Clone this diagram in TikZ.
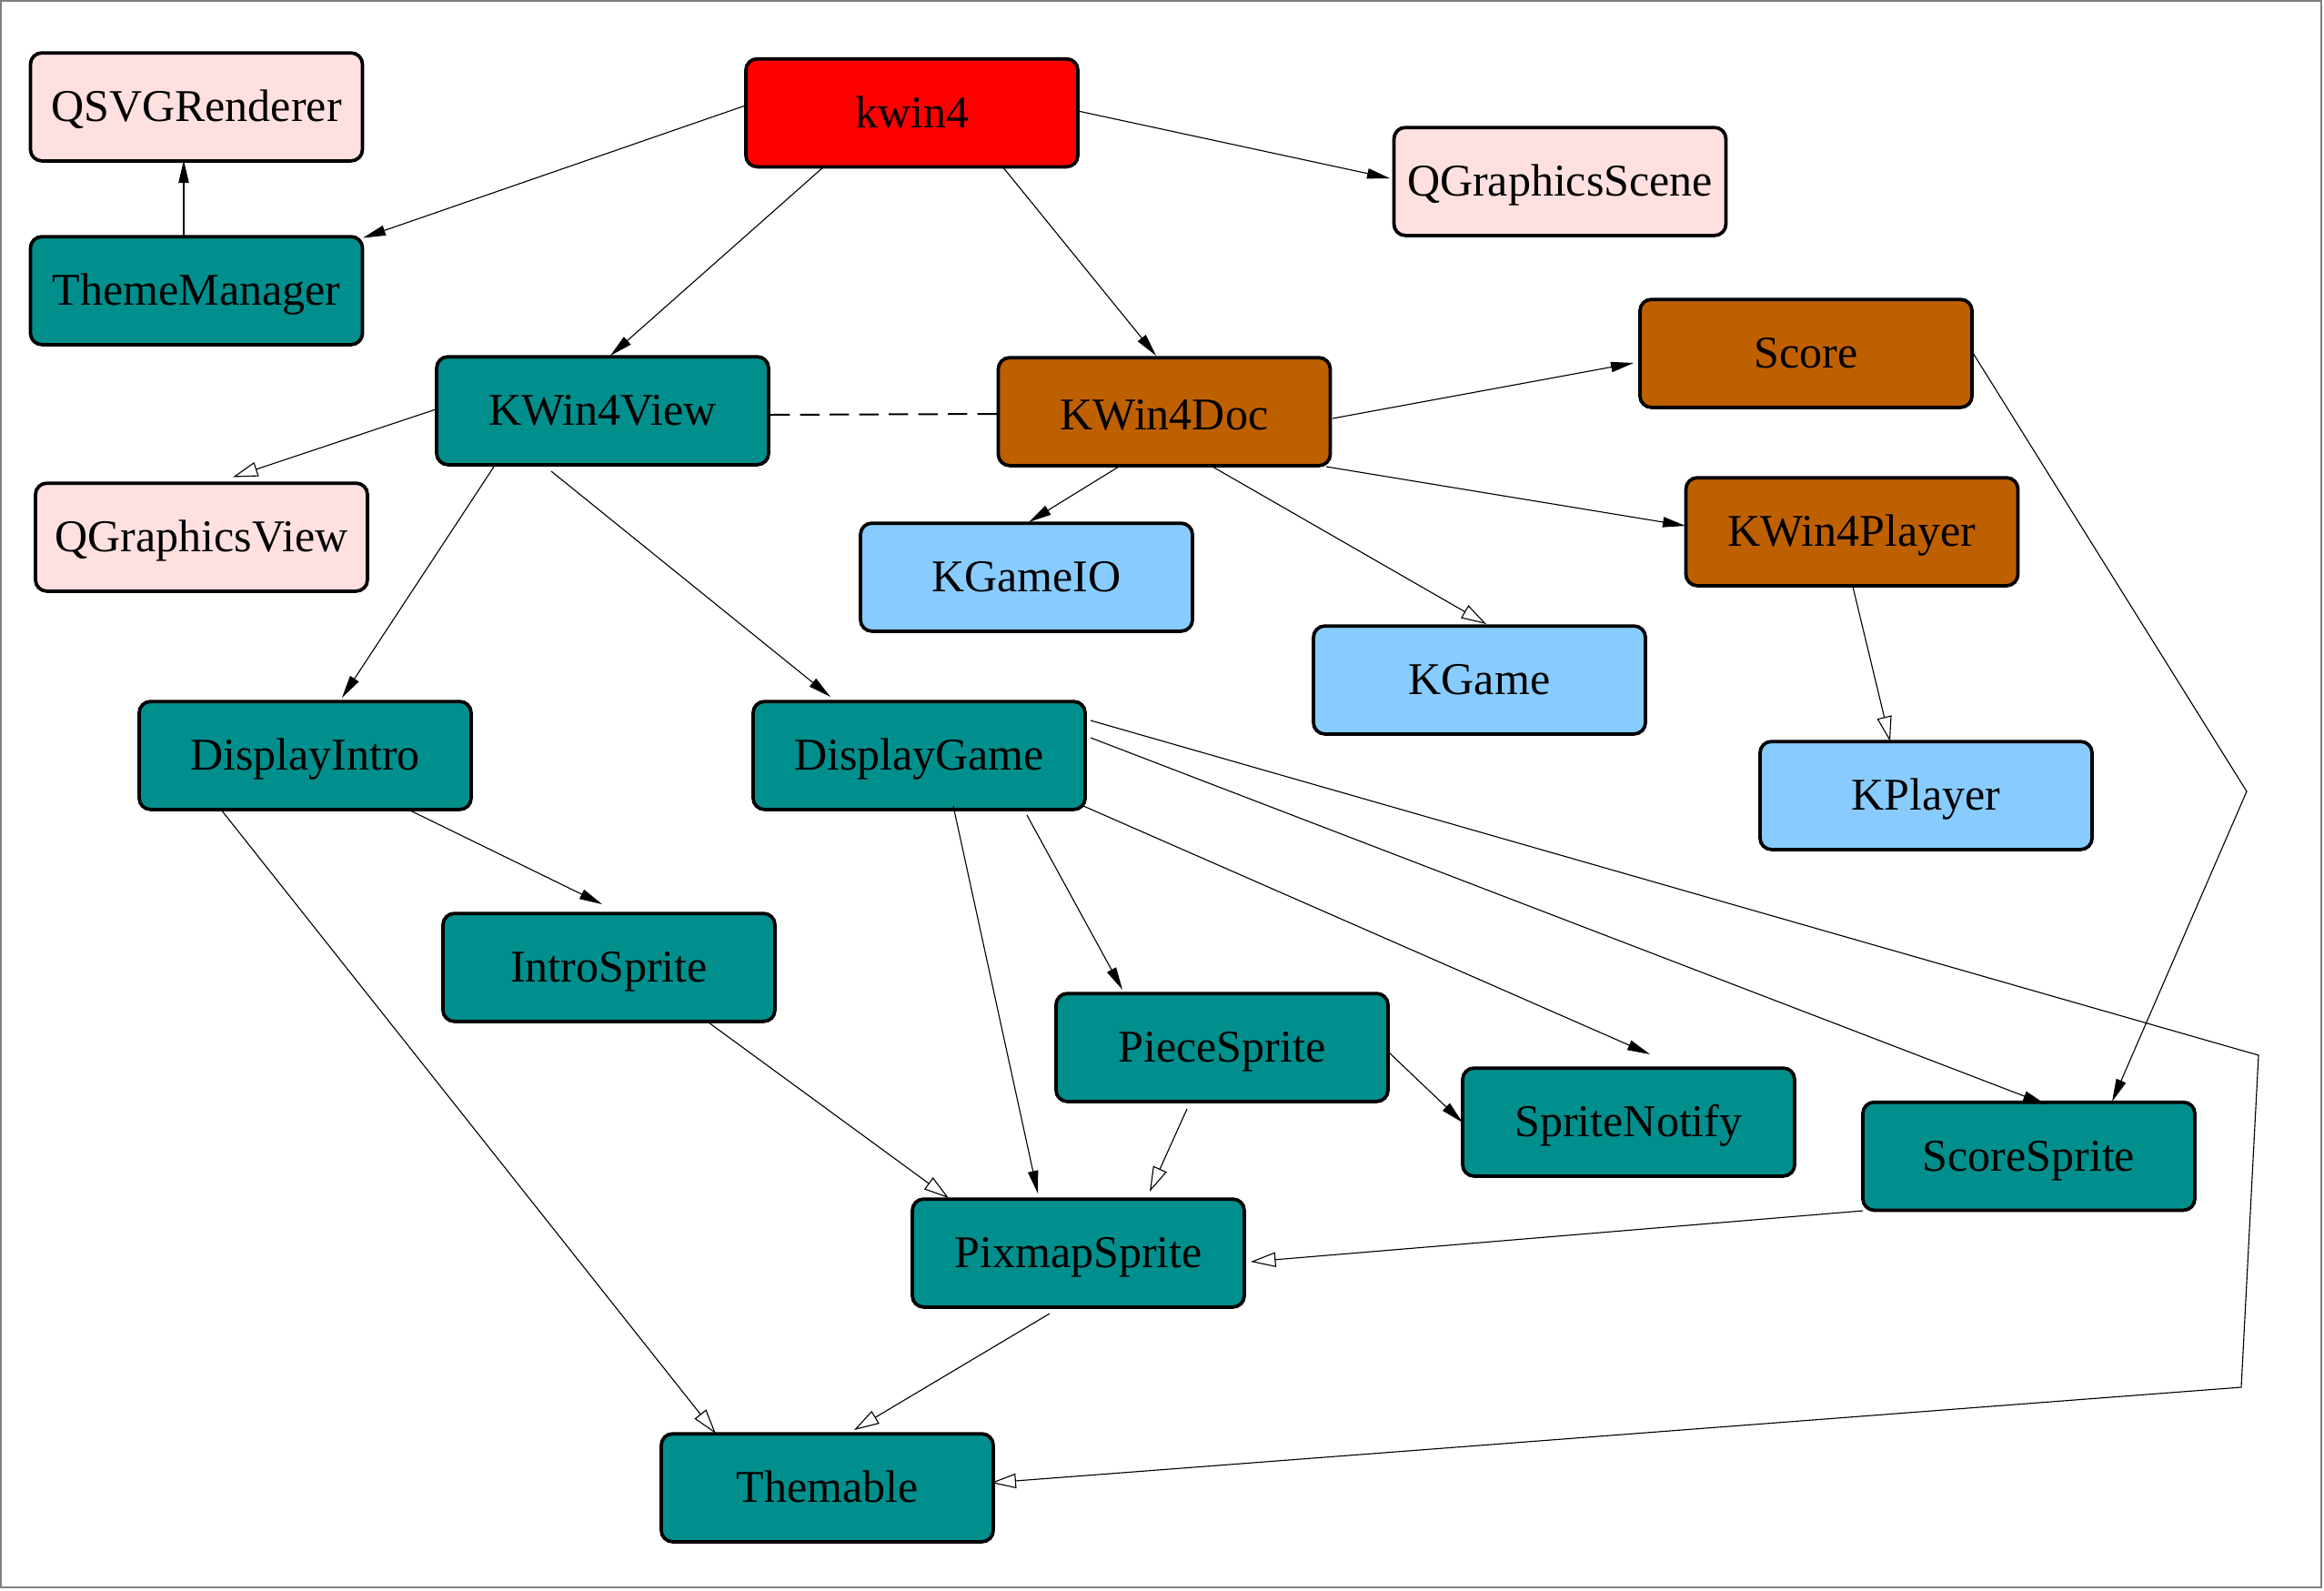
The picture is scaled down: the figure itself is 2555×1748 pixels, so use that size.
\documentclass[tikz,border=0pt]{standalone}
\usepackage{fontspec}
\setmainfont{Liberation Serif}
\usetikzlibrary{arrows.meta,calc}
\definecolor{cpink}{HTML}{FFE0E0}
\definecolor{cteal}{HTML}{008F8C}
\definecolor{cbrown}{HTML}{BF6000}
\definecolor{cblue}{HTML}{88CCFF}
\definecolor{cred}{HTML}{FF0000}
\tikzset{
  cls/.style={draw=black, line width=1.5pt, rounded corners=5pt, minimum width=146pt, minimum height=47.5pt, inner sep=0pt, text height=12.8pt, text depth=0pt, font=\fontsize{20}{24}\selectfont},
  ext/.style={cls, fill=cpink},
  tealbox/.style={cls, fill=cteal},
  docbox/.style={cls, fill=cbrown},
  libbox/.style={cls, fill=cblue},
  mainbox/.style={cls, fill=cred},
  use/.style={line width=0.45pt, -{Triangle[length=10pt,width=4.5pt]}},
  inh/.style={line width=0.45pt, -{Triangle[open,length=11pt,width=6.5pt]}},
  assoc/.style={line width=0.8pt, dash pattern=on 8.5pt off 4.5pt}
}
\begin{document}
\begin{tikzpicture}[x=0.4pt,y=-0.4pt]
\useasboundingbox (0,0) rectangle (2555,1748);
\draw[gray, line width=0.6pt] (1,1) rectangle (2552,1745);

\node[ext] (QSVGRenderer) at (216,117.5) {QSVGRenderer};
\node[mainbox] (kwin4) at (1002.5,124) {kwin4};
\node[ext] (QGraphicsScene) at (1715,199.5) {QGraphicsScene};
\node[tealbox] (ThemeManager) at (216,319.5) {ThemeManager};
\node[tealbox] (KWin4View) at (662.5,451.5) {KWin4View};
\node[docbox, text height=16pt] (KWin4Doc) at (1280,452.5) {KWin4Doc};
\node[docbox] (Score) at (1985.5,388.5) {Score};
\node[ext] (QGraphicsView) at (221.5,590.5) {QGraphicsView};
\node[libbox] (KGameIO) at (1128.5,634.5) {KGameIO};
\node[docbox] (KWin4Player) at (2036,584.5) {KWin4Player};
\node[libbox] (KGame) at (1626.5,747.5) {KGame};
\node[tealbox] (DisplayIntro) at (335.5,830.5) {DisplayIntro};
\node[tealbox] (DisplayGame) at (1010.5,830.5) {DisplayGame};
\node[libbox] (KPlayer) at (2117.5,874.5) {KPlayer};
\node[tealbox] (IntroSprite) at (669.5,1063.5) {IntroSprite};
\node[tealbox] (PieceSprite) at (1343.5,1151.5) {PieceSprite};
\node[tealbox] (SpriteNotify) at (1790.5,1233.5) {SpriteNotify};
\node[tealbox] (ScoreSprite) at (2230.5,1271) {ScoreSprite};
\node[tealbox] (PixmapSprite) at (1185.5,1377.5) {PixmapSprite};
\node[tealbox] (Themable) at (909.5,1635.5) {Themable};

\coordinate (b1) at (2470,870);
\coordinate (b2) at (2483,1160);
\coordinate (b3) at (2464,1525);

\draw[use] ($(kwin4)+(-183,-8)$) -- ($(ThemeManager)+(183,-58)$);
\draw[use] ($(ThemeManager)+(-14,-60.5)$) -- ($(QSVGRenderer)+(-14,58.5)$);
\draw[use] ($(kwin4)+(182.5,-2)$) -- ($(QGraphicsScene)+(-187,-3.5)$);
\draw[use] ($(kwin4)+(-96.5,59)$) -- ($(KWin4View)+(8.5,-60.5)$);
\draw[use] ($(kwin4)+(99.5,59)$) -- ($(KWin4Doc)+(-9,-61.5)$);
\draw[assoc] ($(KWin4View)+(184.5,4.5)$) -- ($(KWin4Doc)+(-183,2.5)$);
\draw[inh] ($(KWin4View)+(-183.5,-1.5)$) -- ($(QGraphicsView)+(34.5,-66)$);
\draw[use] ($(KWin4View)+(-119.5,61.5)$) -- ($(DisplayIntro)+(40.5,-63.5)$);
\draw[use] ($(KWin4View)+(-56.5,66.5)$) -- ($(DisplayGame)+(-97.5,-64.5)$);
\draw[use] ($(KWin4Doc)+(185,7.5)$) -- ($(Score)+(-189.5,10.5)$);
\draw[use] ($(KWin4Doc)+(178,60.5)$) -- ($(KWin4Player)+(-183,-6.5)$);
\draw[use] ($(KWin4Doc)+(-50,60.5)$) -- ($(KGameIO)+(2.5,-60.5)$);
\draw[inh] ($(KWin4Doc)+(53,60.5)$) -- ($(KGame)+(7.5,-61.5)$);
\draw[inh] ($(KWin4Player)+(1,60.5)$) -- ($(KPlayer)+(-39.5,-59.5)$);
\draw[use] ($(Score)+(183.5,-0.5)$) -- (b1) -- ($(ScoreSprite)+(91.5,-60)$);
\draw[inh] ($(DisplayGame)+(188.5,-38.5)$) -- (b2) -- (b3) -- ($(Themable)+(180,-5.5)$);
\draw[use] ($(DisplayGame)+(188.5,-19.5)$) -- ($(ScoreSprite)+(18.5,-57)$);
\draw[use] ($(DisplayGame)+(180.5,55.5)$) -- ($(SpriteNotify)+(23.5,-74.5)$);
\draw[use] ($(DisplayGame)+(118.5,65.5)$) -- ($(PieceSprite)+(-109.5,-63.5)$);
\draw[use] ($(DisplayGame)+(37.5,55.5)$) -- ($(PixmapSprite)+(-44.5,-65.5)$);
\draw[use] ($(DisplayIntro)+(115.5,60.5)$) -- ($(IntroSprite)+(-7.5,-69.5)$);
\draw[inh] ($(DisplayIntro)+(-92.5,59.5)$) -- ($(Themable)+(-122.5,-59.5)$);
\draw[inh] ($(IntroSprite)+(109.5,60.5)$) -- ($(PixmapSprite)+(-142.5,-60.5)$);
\draw[inh] ($(PieceSprite)+(-38.5,67.5)$) -- ($(PixmapSprite)+(78.5,-67.5)$);
\draw[use] ($(PieceSprite)+(183.5,5.5)$) -- ($(SpriteNotify)+(-182.5,0.5)$);
\draw[inh] ($(ScoreSprite)+(-182.5,60)$) -- ($(PixmapSprite)+(189.5,9.5)$);
\draw[inh] ($(PixmapSprite)+(-31.5,66.5)$) -- ($(Themable)+(29.5,-63.5)$);
\end{tikzpicture}
\end{document}
